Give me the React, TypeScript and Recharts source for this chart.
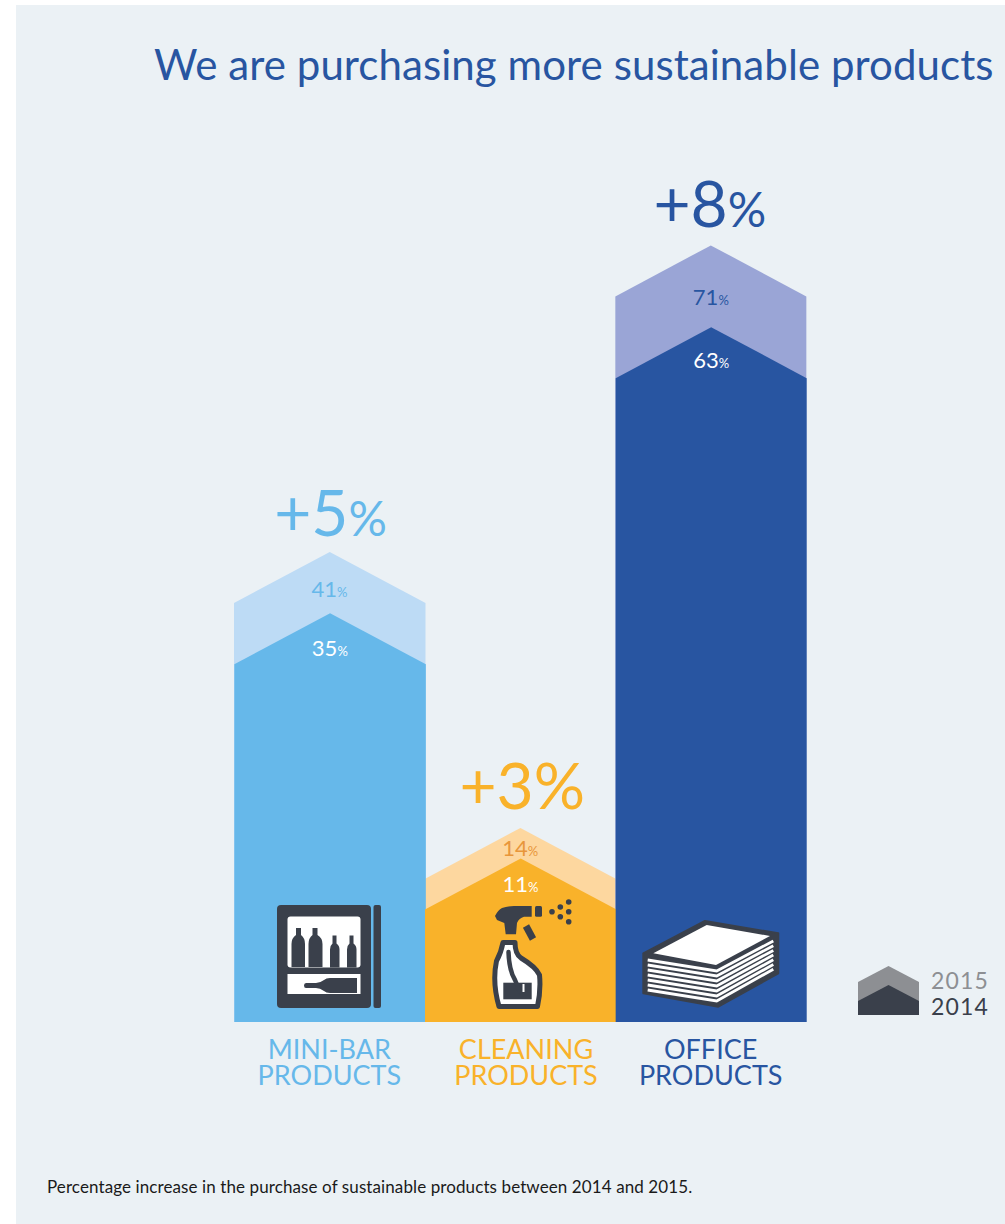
import React from "react";
import { BarChart, Bar, XAxis, YAxis, Legend } from "recharts";

const categories = ["MINI-BAR PRODUCTS", "CLEANING PRODUCTS", "OFFICE PRODUCTS"];
const share2014 = [35, 11, 63];
const share2015 = [41, 14, 71];
const increases = [5, 3, 8];
const legendYears = ["2015", "2014"];

const solidColors = ["#66b8ea", "#f9b22a", "#2855a1"];
const paleColors = ["#bddbf5", "#fdd79f", "#9aa5d6"];
const label2015Colors = ["#66b8ea", "#e8963a", "#2855a1"];
const increasePercentSizes = [48, 64, 48];

const FONT = "Lato, 'Open Sans', sans-serif";
const PEAK = 51;
const DARK = "#3a404b";

const rows = categories.map((category, i) => ({
  category,
  y2014: share2014[i],
  y2015: share2015[i],
}));

// bar with a pitched roof above the value line
function housePath(x: number, y: number, w: number, h: number, peak: number) {
  return `M${x},${y + h}L${x},${y}L${x + w / 2},${y - peak}L${x + w},${y}L${x + w},${y + h}Z`;
}

function HouseBar(props: any) {
  const { x, y, width, height, index, value, colors, textColors, labelDy, showIncrease } = props;
  const cx = x + width / 2;
  const v = Array.isArray(value) ? value[1] : value;
  return (
    <g>
      {/* small overlap so no seam shows between neighbouring bars */}
      <path d={housePath(x, y, width + (index < 2 ? 0.5 : 0), height, PEAK)} fill={colors[index]} />
      <text
        x={cx}
        y={y - PEAK + labelDy[index]}
        textAnchor="middle"
        fontFamily={FONT}
        fontSize={22}
        fill={textColors[index]}
      >
        {v}
        <tspan fontSize={13}>%</tspan>
      </text>
      {showIncrease && (
        <text
          x={cx + [1, 2, -1][index]}
          y={y - PEAK - [16, 19, 18][index]}
          textAnchor="middle"
          fontFamily={FONT}
          fontSize={64}
          fill={solidColors[index]}
        >
          +{increases[index]}
          <tspan fontSize={increasePercentSizes[index]}>%</tspan>
        </text>
      )}
    </g>
  );
}

function CategoryTick({ x, y, payload, index }: any) {
  const [first, second] = payload.value.split(" ");
  const nudge = [0, 6, 0][index] ?? 0;
  return (
    <text textAnchor="middle" fontFamily={FONT} fontSize={27} fill={solidColors[index]}>
      <tspan x={x + nudge} y={y + 29}>
        {first}
      </tspan>
      <tspan x={x + nudge} y={y + 55}>
        {second}
      </tspan>
    </text>
  );
}

function YearKey() {
  return (
    <svg width={150} height={60} style={{ display: "block" }}>
      <path d={housePath(8, 16, 61, 33, 16)} fill="#8d8f93" />
      <path d={housePath(8, 35, 61, 14, 16)} fill={DARK} />
      {legendYears.map((year, i) => (
        <text
          key={year}
          x={81}
          y={23 + i * 26}
          fontFamily={FONT}
          fontSize={23}
          letterSpacing={1.2}
          fill={i === 0 ? "#8d8f93" : DARK}
        >
          {year}
        </text>
      ))}
    </svg>
  );
}

function MiniBarIcon() {
  return (
    <g fill={DARK}>
      <rect x={277} y={905} width={94} height={103} rx={4} />
      <rect x={373.5} y={905} width={7.5} height={103} rx={2} />
      <rect x={287.5} y={916.5} width={73} height={51} rx={3} fill="#fff" />
      <rect x={287.5} y={974} width={73} height={20} fill="#fff" />
      <path d="M296,928h5v7q4,3 4,9v23h-13.500v-23q0,-6 4.500,-9z" />
      <path d="M312.500,928h5v7q5,3 5,9v23h-14v-23q0,-6 4,-9z" />
      <path d="M332.500,935.500h4v8q3,2 3,6v18h-9.500v-18q0,-4 2.500,-6z" />
      <path d="M349.500,935.500h4v8q3,2 3,6v18h-9.500v-18q0,-4 2.500,-6z" />
      <path d="M306,983h10q4,0 8,-3q2,-2 6,-2h27v15h-27q-4,0 -6,-2q-4,-3 -8,-3h-10q-2,0 -2,-2.500t2,-2.500z" />
    </g>
  );
}

function SprayIcon() {
  const dots = [
    [552, 911.7],
    [560.3, 907],
    [568.7, 902],
    [568.7, 911.7],
    [560.3, 916.7],
    [568.7, 921.7],
  ];
  return (
    <g fill={DARK}>
      <path d="M495,916Q498,910 502,908Q507,906 514,906H531.700V916.700H524Q519,918 517,923L516,934.300H505.700L504.300,923L497,920Z" />
      <rect x={535} y={906} width={7} height={10.700} rx={1.500} />
      <path d="M526,926L533,939" stroke={DARK} strokeWidth={7} />
      <path
        d="M503,942.500H515Q515,954 521,958Q536,967 539.500,975Q541,990 537.500,1006.500H499Q492,982 496.500,961Q501,953 503,942.500Z"
        fill="#fff"
        stroke={DARK}
        strokeWidth={5}
        strokeLinejoin="round"
      />
      <rect x={503.300} y={982.700} width={28.400} height={16.600} />
      <path d="M508.500,952Q509,970 515,980L520,992" stroke={DARK} strokeWidth={4.500} fill="none" strokeLinecap="round" />
      <path d="M523.500,984V992" stroke="#fff" strokeWidth={2} />
      {dots.map(([cx, cy], i) => (
        <circle key={i} cx={cx} cy={cy} r={2.800} />
      ))}
    </g>
  );
}

function PaperIcon() {
  const stripes = [0, 1, 2, 3, 4, 5, 6];
  return (
    <g>
      <path
        d="M705,921L778.300,933.300V973.300L718.300,1006.700L643.300,993.300V953.300Z"
        fill={DARK}
        stroke={DARK}
        strokeWidth={2}
        strokeLinejoin="round"
      />
      <path d="M706.700,925L770,936L716,965L653.300,953.300Z" fill="#fff" />
      {stripes.map((i) => (
        <path
          key={i}
          d={`M647.700,${960 + 5 * i}L716.700,${971 + 5 * i}L773.300,${941 + 4.700 * i}`}
          fill="none"
          stroke="#fff"
          strokeWidth={2.800}
        />
      ))}
    </g>
  );
}

export default function App() {
  return (
    <div
      style={{
        position: "absolute",
        left: 0,
        top: 0,
        width: 1005,
        height: 1224,
        background: "#fff",
        overflow: "hidden",
      }}
    >
      <div
        style={{
          position: "absolute",
          left: 16,
          top: 5,
          right: 0,
          bottom: 0,
          background: "#ebf1f5",
        }}
      />
      <div
        style={{
          position: "absolute",
          left: 154,
          top: 36,
          fontFamily: FONT,
          fontSize: 42,
          lineHeight: "56px",
          letterSpacing: 0.07,
          color: "#2855a1",
          whiteSpace: "nowrap",
        }}
      >
        We are purchasing more sustainable products
      </div>
      <div style={{ position: "absolute", left: 0, top: 0 }}>
        <BarChart
          width={1005}
          height={1224}
          data={rows}
          margin={{ top: 0, left: 234, right: 199, bottom: 122 }}
          barCategoryGap={0}
          barGap="-100%"
        >
          <XAxis
            dataKey="category"
            axisLine={false}
            tickLine={false}
            height={80}
            interval={0}
            tick={<CategoryTick />}
          />
          <YAxis hide domain={[0, 100]} />
          <Legend
            verticalAlign="middle"
            content={<YearKey />}
            wrapperStyle={{ position: "absolute", left: 850, top: 966, width: 150, height: 60 }}
          />
          <Bar
            dataKey="y2015"
            isAnimationActive={false}
            shape={
              <HouseBar
                colors={paleColors}
                textColors={label2015Colors}
                labelDy={[45, 28, 60]}
                showIncrease
              />
            }
          />
          <Bar
            dataKey="y2014"
            isAnimationActive={false}
            shape={
              <HouseBar
                colors={solidColors}
                textColors={["#fff", "#fff", "#fff"]}
                labelDy={[43, 33, 41]}
              />
            }
          />
        </BarChart>
      </div>
      <svg
        width={1005}
        height={1224}
        style={{ position: "absolute", left: 0, top: 0, pointerEvents: "none" }}
      >
        <MiniBarIcon />
        <SprayIcon />
        <PaperIcon />
      </svg>
      <div
        style={{
          position: "absolute",
          left: 47,
          top: 1176,
          fontFamily: FONT,
          fontSize: 17,
          lineHeight: "22px",
          letterSpacing: 0.1,
          color: "#1a1a1a",
          whiteSpace: "nowrap",
        }}
      >
        Percentage increase in the purchase of sustainable products between 2014 and 2015.
      </div>
    </div>
  );
}
